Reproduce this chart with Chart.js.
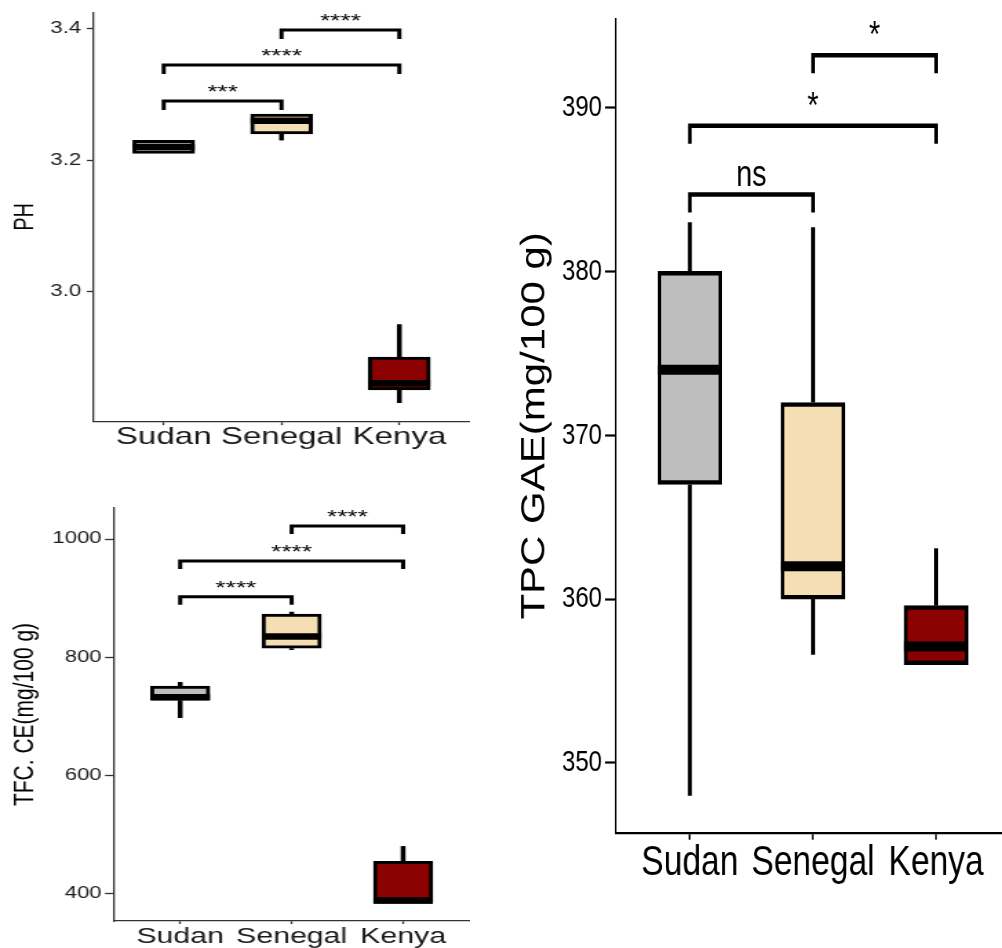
<!DOCTYPE html>
<html>
<head>
<meta charset="utf-8">
<script src="https://cdn.jsdelivr.net/npm/chart.js@4.4.1/dist/chart.umd.min.js"></script>
<style>
  html, body { margin: 0; padding: 0; background: #fff; overflow: hidden; }
  body { width: 1002px; height: 948px; position: relative; }
  canvas { position: absolute; }
</style>
</head>
<body>
<!-- the source figure was resized unevenly, so each canvas is stretched by css -->
<canvas id="phChart" width="341" height="460" style="left:0;top:0;width:470px;height:460px"></canvas>
<canvas id="tfcChart" width="341" height="480" style="left:0;top:480px;width:470px;height:480px"></canvas>
<canvas id="tpcChart" width="625" height="948" style="left:510px;top:0;width:500px;height:948px"></canvas>
<script>
const categories = ['Sudan', 'Senegal', 'Kenya']
const boxColors = ['#bebebe', '#f5deb3', '#8b0000']
const pairs = [[0, 1], [0, 2], [1, 2]]

// PH
const phMin = [3.21, 3.23, 2.83]
const phQ1 = [3.21, 3.24, 2.85]
const phMedian = [3.22, 3.26, 2.86]
const phQ3 = [3.23, 3.27, 2.90]
const phMax = [3.23, 3.27, 2.95]
const phTicks = [3.0, 3.2, 3.4]
const phRange = [2.8015, 3.4253]
const phPairY = [3.29, 3.345, 3.398]
const phPairLabels = ['***', '****', '****']

// TFC. CE
const tfcMin = [697, 812, 383]
const tfcQ1 = [727, 815, 383]
const tfcMedian = [732, 835, 388]
const tfcQ3 = [751, 873, 454]
const tfcMax = [758, 877, 480]
const tfcTicks = [400, 600, 800, 1000]
const tfcRange = [353.1, 1052.5]
const tfcPairY = [902, 962.7, 1022]
const tfcPairLabels = ['****', '****', '****']

// TPC GAE
const tpcMin = [348.0, 356.6, 356.0]
const tpcQ1 = [367.0, 360.0, 356.0]
const tpcMedian = [374.0, 362.0, 357.1]
const tpcQ3 = [380.0, 372.0, 359.6]
const tpcMax = [383.0, 382.7, 363.1]
const tpcTicks = [350, 360, 370, 380, 390]
const tpcRange = [345.74, 395.41]
const tpcPairY = [384.7, 388.9, 393.2]
const tpcPairLabels = ['ns', '*', '*']

const FONT = "'Liberation Sans', Arial, sans-serif"

// whiskers, medians and the significance brackets
function boxParts(s, look) {
    return {
        id: 'boxParts',
        beforeDatasetsDraw(chart) {
            const ctx = chart.ctx
            const y = chart.scales.y
            ctx.save()
            ctx.strokeStyle = '#000'
            ctx.lineWidth = look.whiskerLine
            chart.getDatasetMeta(0).data.forEach((bar, i) => {
                ctx.beginPath()
                ctx.moveTo(bar.x, y.getPixelForValue(s.q3[i]))
                ctx.lineTo(bar.x, y.getPixelForValue(s.max[i]))
                ctx.moveTo(bar.x, y.getPixelForValue(s.q1[i]))
                ctx.lineTo(bar.x, y.getPixelForValue(s.min[i]))
                ctx.stroke()
            })
            ctx.restore()
        },
        afterDatasetsDraw(chart) {
            const ctx = chart.ctx
            const x = chart.scales.x
            const y = chart.scales.y
            ctx.save()
            ctx.strokeStyle = '#000'
            ctx.lineWidth = look.medianLine
            chart.getDatasetMeta(0).data.forEach((bar, i) => {
                const py = y.getPixelForValue(s.median[i])
                ctx.beginPath()
                ctx.moveTo(bar.x - bar.width / 2, py)
                ctx.lineTo(bar.x + bar.width / 2, py)
                ctx.stroke()
            })

            ctx.lineWidth = look.bracketLine
            ctx.lineJoin = 'miter'
            ctx.fillStyle = '#000'
            ctx.font = look.labelFont + 'px ' + FONT
            ctx.textAlign = 'center'
            ctx.textBaseline = 'alphabetic'
            pairs.forEach((p, k) => {
                const x1 = x.getPixelForValue(p[0])
                const x2 = x.getPixelForValue(p[1])
                const py = y.getPixelForValue(s.pairY[k])
                ctx.beginPath()
                ctx.moveTo(x1, py + look.tip)
                ctx.lineTo(x1, py)
                ctx.lineTo(x2, py)
                ctx.lineTo(x2, py + look.tip)
                ctx.stroke()
                ctx.fillText(s.pairLabels[k], (x1 + x2) / 2, py - look.labelGap)
            })
            ctx.restore()
        }
    }
}

function buildChart(id, s, look) {
    const points = categories.map((c, i) => ({ x: i, y: [s.q1[i], s.q3[i]] }))
    return new Chart(document.getElementById(id), {
        type: 'bar',
        data: {
            datasets: [{
                data: points,
                backgroundColor: boxColors,
                borderColor: '#000',
                borderWidth: look.boxLine,
                borderSkipped: false,
                barThickness: look.boxWidth
            }]
        },
        options: {
            responsive: false,
            animation: false,
            devicePixelRatio: 1,
            layout: { padding: { top: look.top, left: 0, right: 0, bottom: 0 } },
            plugins: { legend: { display: false }, tooltip: { enabled: false } },
            scales: {
                x: {
                    type: 'linear',
                    min: -0.6,
                    max: 2.6,
                    offset: false,
                    afterBuildTicks: sc => { sc.ticks = categories.map((c, i) => ({ value: i })) },
                    afterFit: sc => { sc.height = look.xAxisHeight },
                    ticks: {
                        callback: v => categories[v],
                        autoSkip: false,
                        maxRotation: 0,
                        color: look.textColor,
                        padding: look.xTickPad,
                        font: { family: FONT, size: look.xTickFont, lineHeight: 1 }
                    },
                    grid: {
                        offset: false,
                        drawOnChartArea: false,
                        drawTicks: true,
                        tickLength: look.xTickLen,
                        tickColor: look.axisColor,
                        tickWidth: look.axisLine
                    },
                    border: { display: true, color: look.axisColor, width: look.axisLine }
                },
                y: {
                    type: 'linear',
                    min: s.range[0],
                    max: s.range[1],
                    afterBuildTicks: sc => { sc.ticks = s.ticks.map(v => ({ value: v })) },
                    afterFit: sc => { sc.width = look.yAxisWidth },
                    ticks: {
                        callback: v => v.toFixed(look.decimals),
                        color: look.textColor,
                        padding: look.yTickPad,
                        font: { family: FONT, size: look.yTickFont, lineHeight: 1 }
                    },
                    grid: {
                        drawOnChartArea: false,
                        drawTicks: true,
                        tickLength: look.yTickLen,
                        tickColor: look.axisColor,
                        tickWidth: look.axisLine
                    },
                    border: { display: true, color: look.axisColor, width: look.axisLine },
                    title: {
                        display: true,
                        text: s.title,
                        color: '#000',
                        padding: { top: look.titlePad, bottom: 0 },
                        font: { family: FONT, size: look.titleFont }
                    }
                }
            }
        },
        plugins: [boxParts(s, look)]
    })
}

buildChart('phChart', {
    min: phMin, q1: phQ1, median: phMedian, q3: phQ3, max: phMax,
    ticks: phTicks, range: phRange, pairY: phPairY, pairLabels: phPairLabels, title: 'PH'
}, {
    yAxisWidth: 67.5, xAxisHeight: 38.3, top: 10, boxWidth: 44.8, boxLine: 3,
    medianLine: 6.5, whiskerLine: 3.5, bracketLine: 3, tip: 9, axisLine: 1.3, axisColor: '#333',
    yTickFont: 16, yTickLen: 4.5, yTickPad: 4.2, xTickFont: 24, xTickLen: 3.5, xTickPad: 0.5,
    titleFont: 20, titlePad: 6, labelFont: 19, labelGap: 3, textColor: '#1a1a1a', decimals: 1
})

buildChart('tfcChart', {
    min: tfcMin, q1: tfcQ1, median: tfcMedian, q3: tfcQ3, max: tfcMax,
    ticks: tfcTicks, range: tfcRange, pairY: tfcPairY, pairLabels: tfcPairLabels, title: 'TFC. CE(mg/100 g)'
}, {
    yAxisWidth: 82.2, xAxisHeight: 39, top: 28, boxWidth: 43, boxLine: 3,
    medianLine: 6.5, whiskerLine: 3.5, bracketLine: 3, tip: 8, axisLine: 1.3, axisColor: '#333',
    yTickFont: 16, yTickLen: 6, yTickPad: 2.5, xTickFont: 22, xTickLen: 3, xTickPad: 1.5,
    titleFont: 21, titlePad: 5.8, labelFont: 19, labelGap: 3, textColor: '#1a1a1a', decimals: 0
})

buildChart('tpcChart', {
    min: tpcMin, q1: tpcQ1, median: tpcMedian, q3: tpcQ3, max: tpcMax,
    ticks: tpcTicks, range: tpcRange, pairY: tpcPairY, pairLabels: tpcPairLabels, title: 'TPC GAE(mg/100 g)'
}, {
    yAxisWidth: 132.5, xAxisHeight: 115.3, top: 16, boxWidth: 80, boxLine: 4.5,
    medianLine: 10, whiskerLine: 5, bracketLine: 4.5, tip: 18, axisLine: 2.2, axisColor: '#000',
    yTickFont: 30, yTickLen: 13.5, yTickPad: 4, xTickFont: 42, xTickLen: 7, xTickPad: 2.7,
    titleFont: 42, titlePad: 6.7, labelFont: 36, labelGap: 8, textColor: '#000', decimals: 0
})
</script>
</body>
</html>
